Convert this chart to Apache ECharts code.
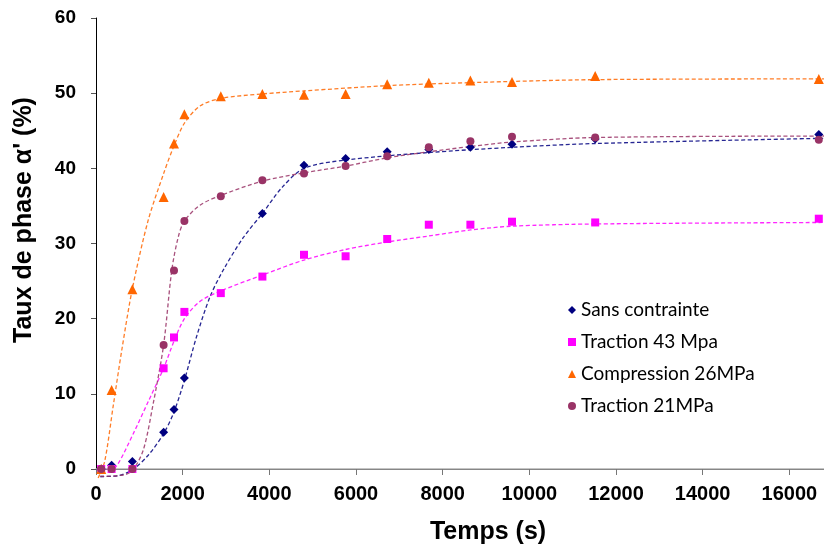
<!DOCTYPE html>
<html>
<head>
<meta charset="utf-8">
<script src="https://cdn.jsdelivr.net/npm/echarts@6/dist/echarts.min.js"></script>
<style>
html,body{margin:0;padding:0;background:#fff;}
#chart{width:824px;height:546px;}
</style>
</head>
<body>
<div id="chart"></div>
<script>
// ---- Data ----
const seriesNames = ['Sans contrainte', 'Traction 43 Mpa', 'Compression 26MPa', 'Traction 21MPa'];

const tSans = [120, 360, 840, 1560, 1800, 2040, 3840, 4800, 5760, 6720, 7680, 8640, 9600, 11520, 16680];
const ySans = [0, 0.5, 1.0, 4.9, 7.9, 12.1, 34.0, 40.4, 41.3, 42.2, 42.5, 42.8, 43.2, 43.9, 44.5];

const tTr43 = [120, 360, 840, 1560, 1800, 2040, 2880, 3840, 4800, 5760, 6720, 7680, 8640, 9600, 11520, 16680];
const yTr43 = [0, 0, 0, 13.4, 17.5, 20.9, 23.4, 25.6, 28.5, 28.3, 30.6, 32.5, 32.5, 32.9, 32.8, 33.3];

const tComp = [120, 360, 840, 1560, 1800, 2040, 2880, 3840, 4800, 5760, 6720, 7680, 8640, 9600, 11520, 16680];
const yComp = [0, 10.5, 23.9, 36.2, 43.3, 47.2, 49.6, 49.9, 49.8, 49.9, 51.2, 51.4, 51.7, 51.5, 52.3, 51.9];

const tTr21 = [120, 360, 840, 1560, 1800, 2040, 2880, 3840, 4800, 5760, 6720, 7680, 8640, 9600, 11520, 16680];
const yTr21 = [0, 0, 0, 16.5, 26.4, 33.0, 36.3, 38.4, 39.3, 40.3, 41.6, 42.8, 43.6, 44.2, 44.1, 43.8];

// fitted (dashed) trend curves
const trendSansT = [100, 500, 840, 1200, 1560, 1800, 2040, 2320, 2630, 2940, 3400, 3840, 4300, 4800, 5760, 7680, 9600, 11520, 16800];
const trendSansY = [-1.0, -0.9, -0.1, 1.8, 4.7, 7.6, 11.8, 17.6, 22.9, 26.5, 30.8, 34.0, 37.5, 40.0, 41.1, 42.1, 42.8, 43.3, 44.0];

const trendTr43T = [300, 500, 860, 1200, 1560, 1800, 2040, 2400, 2880, 3840, 4800, 5760, 6720, 7680, 8640, 9600, 11520, 16800];
const trendTr43Y = [-0.5, 0.6, 4.7, 8.9, 13.4, 17.0, 20.0, 22.3, 23.7, 25.8, 27.8, 29.2, 30.2, 31.0, 31.8, 32.3, 32.6, 32.8];

const trendCompT = [50, 200, 400, 600, 840, 1200, 1560, 1800, 2040, 2400, 2880, 3840, 4800, 6720, 8640, 11520, 16800];
const trendCompY = [-1.2, 1.0, 8.5, 16.0, 24, 33, 39.3, 43, 46, 48.3, 49.3, 49.9, 50.3, 51.0, 51.4, 51.8, 51.9];

const trendTr21T = [100, 630, 840, 1090, 1320, 1560, 1750, 1900, 2040, 2400, 2880, 3840, 4800, 5760, 6720, 7680, 8640, 9600, 11520, 16800];
const trendTr21Y = [-1.0, -0.8, -0.2, 2.5, 8.7, 16.5, 26.5, 30.9, 33.0, 35.1, 36.4, 38.3, 39.4, 40.3, 41.4, 42.2, 42.9, 43.5, 44.1, 44.3];

const xTicks = { min: 0, max: 16800, interval: 2000 };
const yTicks = { min: 0, max: 60, interval: 10 };

const colors = ['#000080', '#FF00FF', '#FF6600', '#993366'];
const symbols = ['diamond', 'rect', 'triangle', 'circle'];
const symbolSizes = [9, 8, 10, 8];

function pairs(t, y) { return t.map((v, i) => [v, y[i]]); }

const pointSets = [pairs(tSans, ySans), pairs(tTr43, yTr43), pairs(tComp, yComp), pairs(tTr21, yTr21)];
const trendSets = [pairs(trendSansT, trendSansY), pairs(trendTr43T, trendTr43Y), pairs(trendCompT, trendCompY), pairs(trendTr21T, trendTr21Y)];

const series = [];
trendSets.forEach((d, i) => {
  series.push({
    type: 'line', name: seriesNames[i] + ' (tendance)', data: d,
    smooth: 0.3, showSymbol: false, symbol: 'none', clip: false,
    lineStyle: { color: colors[i], width: 1.3, type: [4, 2.5], opacity: 0.85 },
    z: 1, silent: true
  });
});
pointSets.forEach((d, i) => {
  series.push({
    type: 'scatter', name: seriesNames[i], data: d,
    symbol: symbols[i], symbolSize: symbolSizes[i],
    itemStyle: { color: colors[i], opacity: 1 }, clip: false, z: 3 + i
  });
});

const chart = echarts.init(document.getElementById('chart'), null, { renderer: 'canvas' });
chart.setOption({
  animation: false,
  backgroundColor: '#ffffff',
  grid: { left: 96, right: 0, top: 18, bottom: 77 },
  xAxis: [{
    type: 'value', min: xTicks.min, max: xTicks.max, interval: xTicks.interval,
    axisLine: { show: true, onZero: false, lineStyle: { color: '#000', width: 1 } },
    axisTick: { show: true, length: 6, lineStyle: { color: '#777' } },
    axisLabel: { color: '#000', fontFamily: '"Liberation Sans", Arial, sans-serif', fontWeight: 'bold', fontSize: 20, margin: 15, showMaxLabel: false,
      formatter: v => String(v) },
    splitLine: { show: false }
  }, {
    type: 'value', position: 'top', min: xTicks.min, max: xTicks.max, interval: xTicks.interval,
    axisLine: { show: true, lineStyle: { color: '#b3b3b3', width: 1.5 } },
    axisTick: { show: false }, axisLabel: { show: false }, splitLine: { show: false }
  }],
  yAxis: {
    type: 'value', min: yTicks.min, max: yTicks.max, interval: yTicks.interval,
    axisLine: { show: true, onZero: false, lineStyle: { color: '#000', width: 1 } },
    axisTick: { show: true, length: 5, lineStyle: { color: '#555' } },
    axisLabel: { color: '#000', fontFamily: '"Liberation Sans Narrow", "Liberation Sans", Arial, sans-serif', fontWeight: 'bold', fontSize: 19, margin: 20 },
    splitLine: { show: false }
  },
  legend: {
    orient: 'vertical', left: 563, top: 295,
    itemWidth: 8, itemHeight: 8, itemGap: 12,
    textStyle: { fontFamily: 'Lato, "Open Sans", sans-serif', fontSize: 19, color: '#000', lineHeight: 20 },
    data: seriesNames.map((n, i) => ({ name: n, icon: symbols[i] }))
  },
  graphic: [
    { type: 'text', x: 488, y: 532,
      style: { text: 'Temps (s)', fill: '#000', font: 'bold 25px "Liberation Sans", Arial, sans-serif', textAlign: 'center', textVerticalAlign: 'middle' } },
    { type: 'text', x: 24, y: 220, rotation: Math.PI / 2,
      style: { text: "Taux de phase α' (%)", fill: '#000', font: 'bold 25px "Liberation Sans", Arial, sans-serif', textAlign: 'center', textVerticalAlign: 'middle' } }
  ],
  series: series
});
</script>
</body>
</html>
